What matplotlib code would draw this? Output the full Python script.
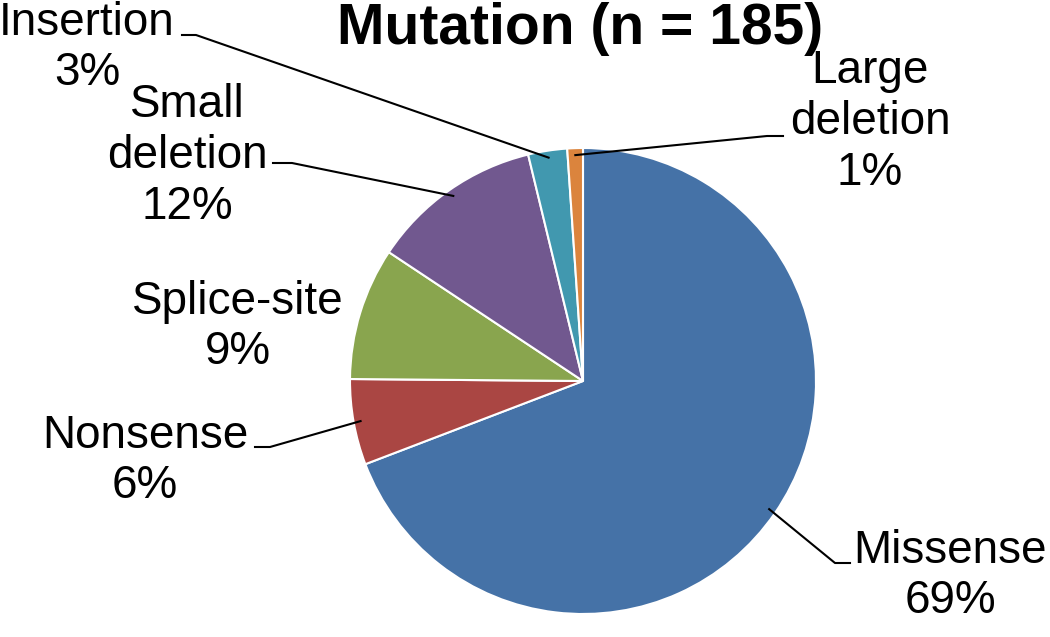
import numpy as np
import matplotlib
matplotlib.use('Agg')
import matplotlib.pyplot as plt

plt.rcParams['font.family'] = ['Liberation Sans', 'DejaVu Sans']

# data
labels = ['Missense', 'Nonsense', 'Splice-site', 'Small\ndeletion', 'Insertion', 'Large\ndeletion']
counts = [128, 11, 17, 22, 5, 2]
colors = ['#4572A7', '#AA4643', '#89A54E', '#71588F', '#4198AF', '#DB843D']
n_total = 185

W, H = 1050, 637
fig = plt.figure(figsize=(W / 100, H / 100), dpi=100)
ax = fig.add_axes([0, 0, 1, 1])

def py(y):
    # pixel row (from top) -> data y
    return H - y

cx, cy, r = 583, 381, 233
wedges, _ = ax.pie(counts, colors=colors, startangle=90, counterclock=False,
                   center=(cx, py(cy)), radius=r, frame=True,
                   wedgeprops=dict(edgecolor='white', linewidth=1.5))
ax.set_xlim(0, W)
ax.set_ylim(0, H)
ax.axis('off')

# label block centre and leader line (start, elbow) in pixels
layout = [
    ((950, 576), ((850, 563), (835, 563))),
    ((145, 461), ((255, 447), (270, 447))),
    ((238, 327), None),
    ((187, 156), ((273, 163), (292, 163))),
    ((87, 48), ((182, 35), (196, 35))),
    ((870, 122), ((783, 136), (767, 136))),
]

total = sum(counts)
for w, lab, c, (pos, leader) in zip(wedges, labels, counts, layout):
    pct = round(100 * c / total)
    ax.text(pos[0], py(pos[1]), f'{lab}\n{pct}%', ha='center', va='center',
            fontsize=33, linespacing=1.2)
    if leader is not None:
        ang = np.deg2rad((w.theta1 + w.theta2) / 2)
        ex = cx + 0.97 * r * np.cos(ang)
        ey = py(cy) + 0.97 * r * np.sin(ang)
        (x0, y0), (x1, y1) = leader
        ax.plot([x0, x1, ex], [py(y0), py(y1), ey], color='black', lw=1.5)

ax.text(580, py(44), f'Mutation (n = {n_total})', ha='center', va='baseline',
        fontsize=41, fontweight='bold')

fig.savefig('out.png', dpi=100)
